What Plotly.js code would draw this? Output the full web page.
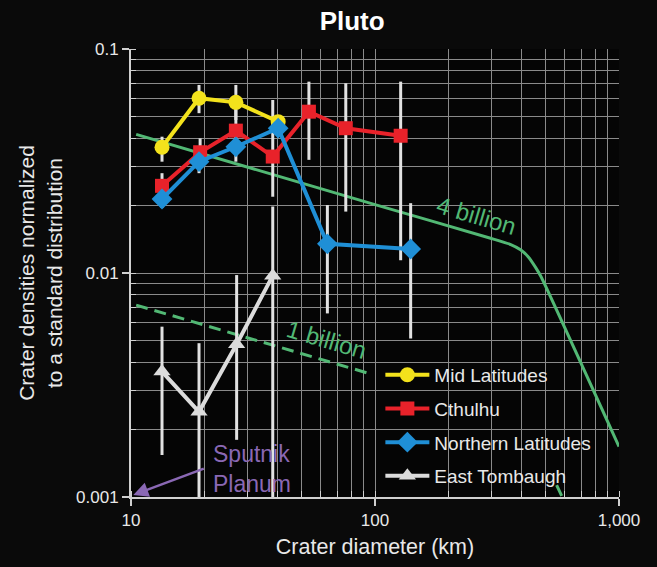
<!DOCTYPE html>
<html>
<head>
<meta charset="utf-8">
<script src="https://cdn.plot.ly/plotly-3.0.1.min.js"></script>
<style>html,body{margin:0;padding:0;background:#0a0a0a;}</style>
</head>
<body>
<div id="chart" style="width:657px;height:567px;"></div>
<script>
// ---- Data ----
const midX  = [13.4, 19.0, 26.9, 40.1];
const midY  = [0.0364, 0.0603, 0.0578, 0.0474];
const midHi = [0.0406, 0.0691, 0.0691, 0.0474];
const midLo = [0.0314, 0.0517, 0.0482, 0.0474];

const cthX  = [13.4, 19.2, 26.9, 38.1, 53.6, 75.9, 127.4];
const cthY  = [0.0245, 0.0346, 0.0432, 0.0331, 0.0525, 0.0443, 0.0410];
const cthHi = [0.0279, 0.0399, 0.0546, 0.0592, 0.0715, 0.0703, 0.0715];
const cthLo = [0.0212, 0.0310, 0.0354, 0.0219, 0.0320, 0.0188, 0.0114];

const norX  = [13.4, 19.0, 26.9, 40.1, 63.8, 140];
const norY  = [0.0214, 0.0314, 0.0366, 0.0443, 0.0135, 0.0128];
const norHi = [0.0247, 0.0361, 0.0435, 0.0443, 0.0201, 0.0205];
const norLo = [0.0195, 0.0279, 0.0314, 0.0443, 0.0066, 0.0051];

const etX  = [13.4, 19.0, 27.1, 38.1];
const etY  = [0.00363, 0.00240, 0.00481, 0.00973];
const etHi = [0.00576, 0.00486, 0.00979, 0.0198];
const etLo = [0.00154, 0.0009, 0.0018, 0.0009];

// model curves (visible parts)
const bil4X = [10.5, 100, 300, 360, 395, 425, 455, 480, 1000];
const bil4Y = [0.0416, 0.0202, 0.01426, 0.0134, 0.0127, 0.0118, 0.0106, 0.0096, 0.00168];
const bil1X = [10.5, 98, null, 555, 640];
const bil1Y = [0.00719, 0.00352, null, 0.00113, 0.00081];

const xTickVals = [10, 100, 1000];
const xTickText = ['10', '100', '1,000'];
const yTickVals = [0.001, 0.01, 0.1];
const yTickText = ['0.001', '0.01', '0.1'];

const seriesNames = ['Mid Latitudes', 'Cthulhu', 'Northern Latitudes', 'East Tombaugh'];

// ---- Styles ----
const FONT = 'Liberation Sans, Arial, sans-serif';
const GREEN = '#52b874';
const PURPLE = '#8a68b4';
const EBAR = '#e2e2e2';
const GRID = '#8a8a8a';
const TXT = '#e8e8e8';
const PLOTBG = '#050505';

function errTrace(x, y, hi, lo) {
  return {
    x: x, y: y, type: 'scatter', mode: 'markers', showlegend: false, hoverinfo: 'skip',
    marker: {size: 1, color: 'rgba(0,0,0,0)'},
    error_y: {type: 'data', symmetric: false,
      array: hi.map((h, i) => h - y[i]),
      arrayminus: lo.map((l, i) => y[i] - l),
      color: EBAR, thickness: 3, width: 0}
  };
}
function series(x, y, name, color, symbol, size) {
  return {
    x: x, y: y, type: 'scatter', mode: 'lines+markers', name: name, legendgroup: name,
    line: {color: color, width: 4},
    marker: {color: color, symbol: symbol, size: size}
  };
}

const traces = [
  {x: bil4X, y: bil4Y, type: 'scatter', mode: 'lines', showlegend: false,
   line: {color: GREEN, width: 3, shape: 'spline', smoothing: 0.4}},
  {x: bil1X, y: bil1Y, type: 'scatter', mode: 'lines', showlegend: false, connectgaps: false,
   line: {color: GREEN, width: 3, dash: '12px,7px'}},
  errTrace(etX, etY, etHi, etLo),
  errTrace(midX, midY, midHi, midLo),
  errTrace(cthX, cthY, cthHi, cthLo),
  errTrace(norX, norY, norHi, norLo),
  series(midX, midY, seriesNames[0], '#f3e21c', 'circle', 15),
  series(cthX, cthY, seriesNames[1], '#e8222a', 'square', 14),
  series(norX, norY, seriesNames[2], '#1f8fd6', 'diamond', 16),
  series(etX, etY, seriesNames[3], '#dcdcdc', 'triangle-up', 15)
];

const layout = {
  width: 657, height: 567,
  paper_bgcolor: '#0a0a0a', plot_bgcolor: PLOTBG,
  margin: {l: 131, r: 38, t: 49, b: 70},
  font: {family: FONT, color: TXT, size: 17},
  title: {text: '<b>Pluto</b>', font: {family: FONT, size: 26, color: '#ffffff'},
          x: 0.536, xref: 'container', xanchor: 'center', y: 0.963, yref: 'container', yanchor: 'middle'},
  showlegend: true,
  legend: {x: 0.511, xanchor: 'left', y: 0.315, yanchor: 'top', bgcolor: 'rgba(0,0,0,0)',
           font: {family: FONT, size: 19, color: TXT}, traceorder: 'grouped',
           tracegroupgap: 6, itemwidth: 44},
  shapes: [
    {type: 'rect', xref: 'paper', yref: 'paper', x0: 0.5, x1: 0.949, y0: 0.0156, y1: 0.297,
     fillcolor: PLOTBG, line: {width: 0}, layer: 'between'}
  ],
  xaxis: {type: 'log', range: [1, 3], tickvals: xTickVals, ticktext: xTickText,
          showline: true, linecolor: '#d0d0d0', linewidth: 2,
          ticks: 'outside', ticklen: 7, tickwidth: 2, tickcolor: '#d0d0d0',
          showgrid: true, gridcolor: GRID, gridwidth: 1, zeroline: false,
          tickfont: {family: FONT, size: 17, color: TXT},
          minor: {dtick: 'D1', showgrid: true, gridcolor: GRID, gridwidth: 1,
                  ticks: 'inside', ticklen: 6, tickcolor: '#d0d0d0', tickwidth: 1},
          title: {text: 'Crater diameter (km)', font: {family: FONT, size: 21.5, color: TXT}, standoff: 10}},
  yaxis: {type: 'log', range: [-3, -1], tickvals: yTickVals, ticktext: yTickText,
          showline: true, linecolor: '#d0d0d0', linewidth: 2,
          ticks: 'outside', ticklen: 7, tickwidth: 2, tickcolor: '#d0d0d0',
          showgrid: true, gridcolor: GRID, gridwidth: 1, zeroline: false,
          tickfont: {family: FONT, size: 17, color: TXT},
          minor: {dtick: 'D1', showgrid: true, gridcolor: GRID, gridwidth: 1,
                  ticks: 'inside', ticklen: 5, tickcolor: '#d0d0d0', tickwidth: 1},
          title: {text: 'Crater densities normalized<br>to a standard distribution',
                  font: {family: FONT, size: 21, color: TXT}, standoff: 8}},
  annotations: [
    {x: Math.log10(259.6), y: Math.log10(0.01815), xref: 'x', yref: 'y', text: '4 billion',
     showarrow: false, textangle: 16.4, font: {family: FONT, size: 24, color: GREEN}},
    {x: Math.log10(63.0), y: Math.log10(0.00507), xref: 'x', yref: 'y', text: '1 billion',
     showarrow: false, textangle: 16.4, font: {family: FONT, size: 24, color: GREEN}},
    {x: Math.log10(31.3), y: Math.log10(0.00134), xref: 'x', yref: 'y', text: 'Sputnik<br>Planum',
     showarrow: false, align: 'left', font: {family: FONT, size: 23, color: PURPLE}},
    {x: Math.log10(10.22), y: Math.log10(0.00102), xref: 'x', yref: 'y', text: '',
     showarrow: true, ax: 72, ay: -27, arrowhead: 2, arrowsize: 1.2, arrowwidth: 2.5,
     arrowcolor: PURPLE, standoff: 0, startstandoff: 0}
  ]
};

Plotly.newPlot('chart', traces, layout, {displayModeBar: false, staticPlot: true});
</script>
</body>
</html>
